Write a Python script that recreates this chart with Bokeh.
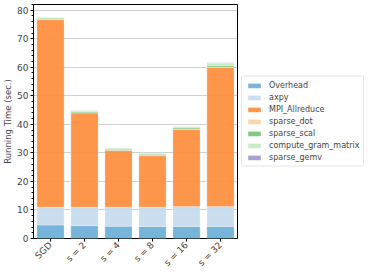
from bokeh.plotting import figure
from bokeh.models import Legend, ColumnDataSource
from bokeh.embed import file_html
from bokeh.resources import INLINE
import math

categories = ["SGD", "s = 2", "s = 4", "s = 8", "s = 16", "s = 32"]
overhead = [4.7, 4.5, 4.3, 4.2, 4.2, 4.2]
axpy = [6.3, 6.5, 6.7, 6.8, 7.0, 7.0]
mpi_allreduce = [65.7, 33.0, 19.8, 18.0, 27.1, 48.8]
sparse_dot = [0.1, 0.1, 0.1, 0.1, 0.1, 0.1]
sparse_scal = [0.4, 0.4, 0.4, 0.4, 0.4, 0.5]
compute_gram_matrix = [0.3, 0.3, 0.4, 0.3, 0.5, 0.9]
sparse_gemv = [0.05, 0.05, 0.05, 0.05, 0.05, 0.05]

names = ["Overhead", "axpy", "MPI_Allreduce", "sparse_dot", "sparse_scal",
         "compute_gram_matrix", "sparse_gemv"]
keys = ["overhead", "axpy", "mpi", "dot", "scal", "gram", "gemv"]
colors = ["#6baed6", "#c6dbef", "#fd8d3c", "#fdd0a2", "#74c476", "#c7e9c0", "#9e9ac8"]

source = ColumnDataSource(dict(
    cat=categories, overhead=overhead, axpy=axpy, mpi=mpi_allreduce,
    dot=sparse_dot, scal=sparse_scal, gram=compute_gram_matrix, gemv=sparse_gemv))

p = figure(x_range=categories, y_range=(0, 82), frame_width=204, frame_height=234,
           output_backend="svg", toolbar_location=None,
           min_border_left=0, min_border_top=4, min_border_right=0, min_border_bottom=4)

renderers = p.vbar_stack(keys, x="cat", width=0.8, source=source, color=colors,
                         fill_alpha=0.92, line_color="white", line_alpha=0.5, line_width=0.5)

legend = Legend(items=[(n, [r]) for n, r in zip(names, renderers)], location="center_left")
legend.label_text_font = "DejaVu Sans"
legend.label_text_font_size = "8px"
legend.glyph_width = 16
legend.glyph_height = 6
legend.label_height = 8
legend.spacing = 3
legend.padding = 4
legend.margin = 4
legend.label_standoff = 7
legend.border_line_color = "#cccccc"
legend.border_line_width = 1
legend.border_radius = 2
p.add_layout(legend, "right")

p.outline_line_color = "black"
p.outline_line_width = 1
p.xgrid.grid_line_color = None
p.ygrid.grid_line_color = "#b0b0b0"
p.ygrid.grid_line_alpha = 0.6
p.ygrid.grid_line_width = 1

p.yaxis.ticker.desired_num_ticks = 9
p.yaxis.ticker.num_minor_ticks = 5
p.yaxis.axis_label = "Running Time (sec.)"
p.yaxis.axis_label_text_font = "DejaVu Sans"
p.yaxis.axis_label_text_font_style = "normal"
p.yaxis.axis_label_text_font_size = "8.5px"
p.yaxis.axis_label_standoff = 1
for ax in (p.xaxis, p.yaxis):
    ax.major_label_text_font = "DejaVu Sans"
    ax.major_label_text_font_size = "9px"
    ax.major_label_standoff = 2
    ax.axis_line_color = None
    ax.major_tick_line_color = "black"
    ax.minor_tick_line_color = "black"
    ax.major_tick_out = 3
    ax.major_tick_in = 0
    ax.minor_tick_out = 2
    ax.minor_tick_in = 0
p.xaxis.major_label_orientation = math.pi / 4
p.xaxis.major_label_text_font_size = "9px"

open("out.html", "w").write(file_html(p, INLINE))
